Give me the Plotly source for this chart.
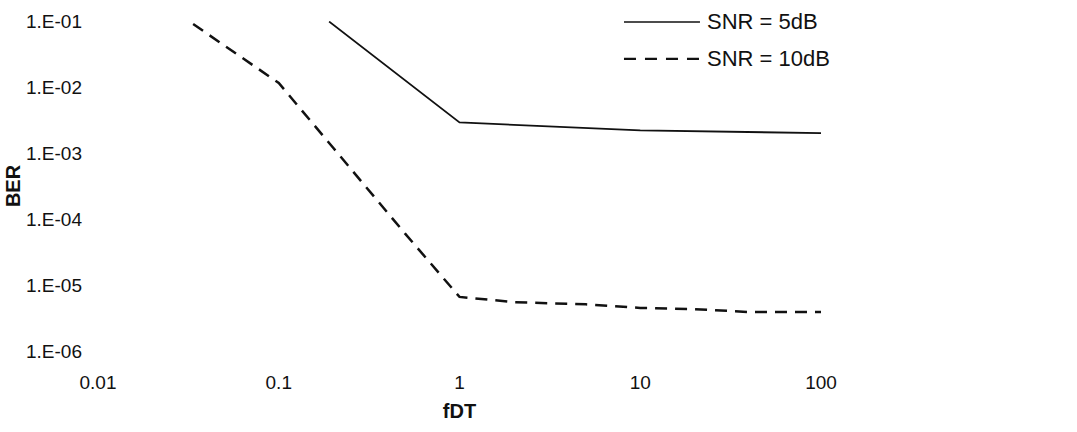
import plotly.graph_objects as go

# Data
fdt_5db = [0.19, 1, 10, 100]
ber_5db = [0.098, 2.9e-3, 2.2e-3, 2.0e-3]

fdt_10db = [0.0336, 0.1, 0.2, 0.5, 1, 2, 5, 10, 20, 40, 100]
ber_10db = [0.09, 0.0115, 1.2e-3, 6e-5, 6.6e-6, 5.5e-6, 5.1e-6, 4.5e-6, 4.3e-6, 3.9e-6, 3.9e-6]

x_tickvals = [0.01, 0.1, 1, 10, 100]
x_ticktext = ["0.01", "0.1", "1", "10", "100"]
y_tickvals = [1e-6, 1e-5, 1e-4, 1e-3, 1e-2, 1e-1]
y_ticktext = ["1.E-06", "1.E-05", "1.E-04", "1.E-03", "1.E-02", "1.E-01"]

series_names = ["SNR = 5dB", "SNR = 10dB"]

FONT = "Liberation Sans, Arial, sans-serif"

fig = go.Figure()
fig.add_trace(go.Scatter(x=fdt_5db, y=ber_5db, mode="lines", name=series_names[0],
                         line=dict(color="#111111", width=1.8), showlegend=False))
fig.add_trace(go.Scatter(x=fdt_10db, y=ber_10db, mode="lines", name=series_names[1],
                         line=dict(color="#111111", width=2.5, dash="12px,8px"), showlegend=False))

# Manual legend (long line samples as in the reference)
legend_rows = [(0.997, "solid", 1.6), (0.885, "12px,9px", 2.2)]
for (yp, dash, w), name in zip(legend_rows, series_names):
    fig.add_shape(type="line", xref="paper", yref="paper", x0=0.7275, x1=0.8326, y0=yp, y1=yp,
                  line=dict(color="#111111", width=w, dash=dash))
    fig.add_annotation(xref="paper", yref="paper", x=0.839, y=yp, text=name, showarrow=False,
                       xanchor="left", yanchor="middle", font=dict(family=FONT, size=22, color="#111111"))

fig.update_layout(
    width=1077, height=432,
    margin=dict(l=98, r=256, t=21, b=81),
    paper_bgcolor="white", plot_bgcolor="white",
    font=dict(family=FONT, size=19, color="#111111"),
    showlegend=False,
)
fig.update_xaxes(type="log", range=[-2, 2], tickvals=x_tickvals, ticktext=x_ticktext,
                 showgrid=False, zeroline=False, showline=False, ticks="",
                 ticklabelstandoff=18,
                 title=dict(text="<b>fDT</b>", font=dict(size=20), standoff=11))
fig.update_yaxes(type="log", range=[-6, -1], tickvals=y_tickvals, ticktext=y_ticktext,
                 showgrid=False, zeroline=False, showline=False, ticks="",
                 ticklabelstandoff=15,
                 title=dict(text="<b>BER</b>", font=dict(size=20), standoff=0))

fig.write_html("out.html")
